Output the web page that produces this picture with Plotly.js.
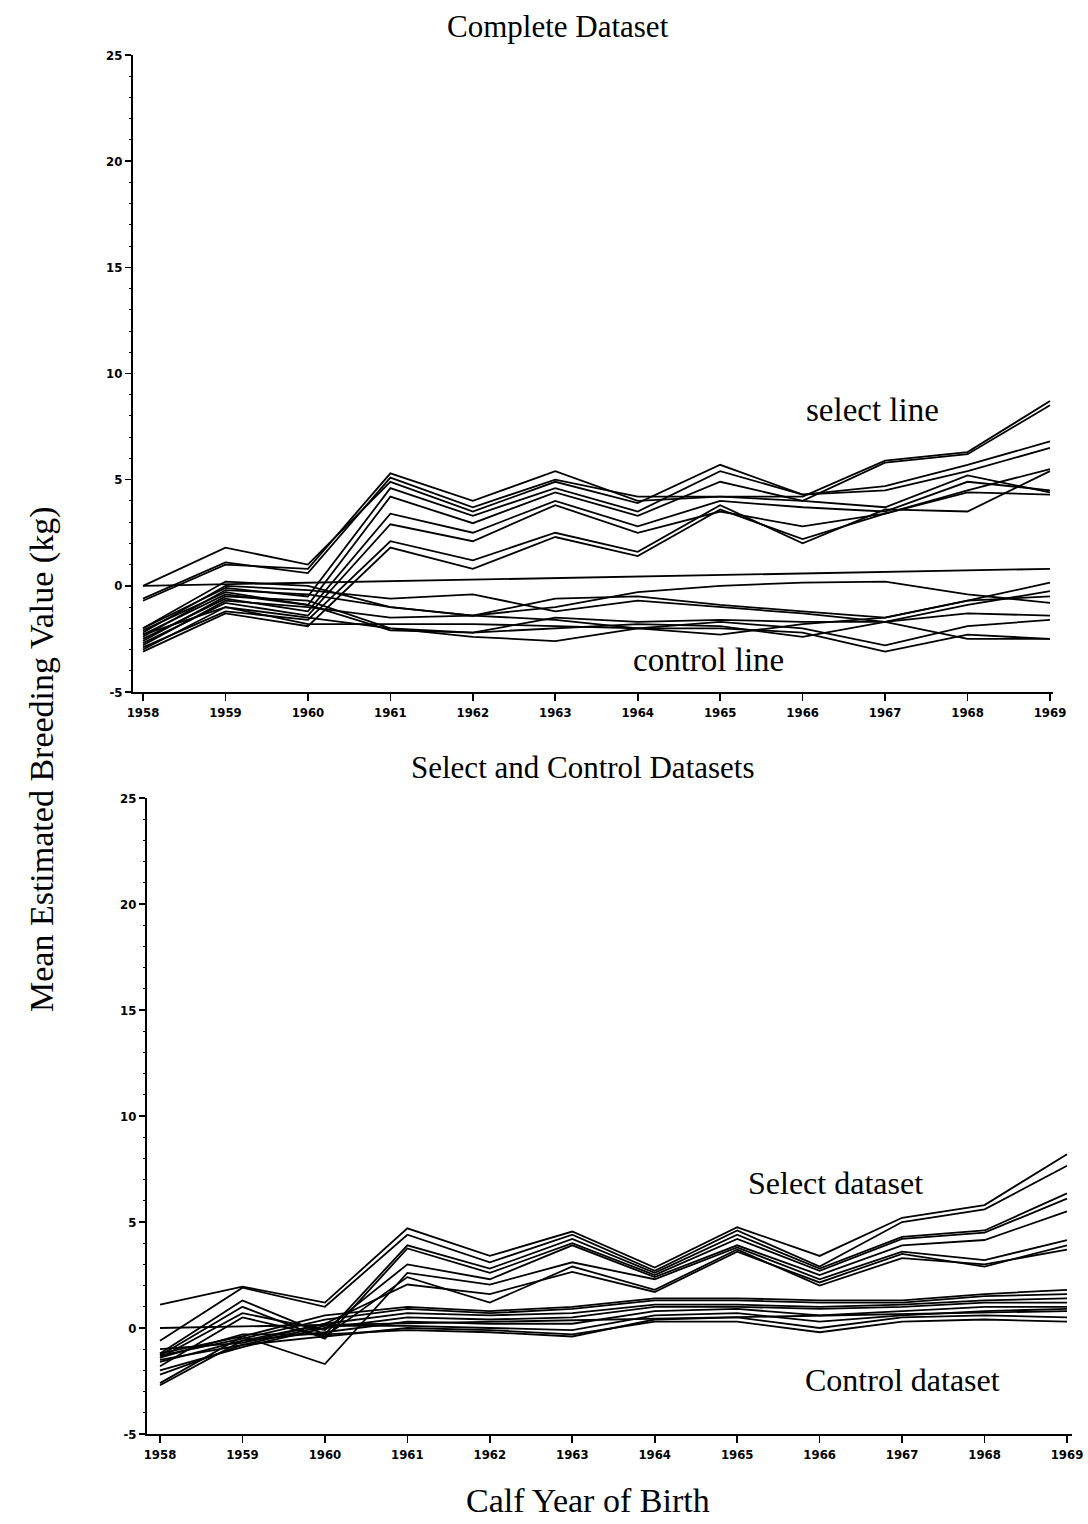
<!DOCTYPE html>
<html>
<head>
<meta charset="utf-8">
<script src="https://cdn.plot.ly/plotly-3.0.1.min.js"></script>
<style>html,body{margin:0;padding:0;background:#fff;}#chart{width:1088px;height:1524px;}</style>
</head>
<body>
<div id="chart"></div>
<script>
const years = [1958,1959,1960,1961,1962,1963,1964,1965,1966,1967,1968,1969];
const yTicks = [-5,0,5,10,15,20,25];

// Top panel: Complete Dataset
const completeSelect = [
  [-0.7, 1.0, 0.8, 5.3, 4.0, 5.4, 4.0, 4.2, 4.2, 5.9, 6.3, 8.7],
  [-0.6, 1.1, 0.6, 5.1, 3.7, 5.0, 4.2, 4.2, 4.0, 5.8, 6.2, 8.5],
  [0.0, 1.8, 1.0, 4.9, 3.5, 4.9, 3.9, 5.7, 4.3, 4.7, 5.7, 6.8],
  [-2.0, -0.1, -0.5, 4.6, 3.3, 4.6, 3.5, 5.4, 4.3, 4.5, 5.4, 6.5],
  [-2.3, -0.4, -0.9, 4.2, 2.95, 4.4, 3.3, 4.9, 4.0, 3.7, 5.2, 4.4],
  [-2.5, -0.6, -1.2, 3.4, 2.5, 4.0, 2.8, 4.0, 3.7, 3.5, 4.9, 4.5],
  [-2.7, -0.8, -1.4, 2.9, 2.1, 3.8, 2.5, 3.5, 2.8, 3.4, 4.5, 5.5],
  [-2.9, -1.2, -1.6, 2.1, 1.2, 2.5, 1.6, 3.8, 2.0, 3.6, 3.5, 5.4],
  [-3.1, -1.3, -1.9, 1.8, 0.8, 2.3, 1.4, 3.6, 2.2, 3.4, 4.4, 4.3]
];
const completeControl = [
  [-2.0, 0.2, 0.0, -1.0, -1.4, -0.6, -0.5, -0.9, -1.2, -1.5, -0.7, 0.15],
  [-2.2, 0.0, -0.2, -0.6, -0.4, -1.2, -0.7, -1.0, -1.3, -1.7, -0.9, -0.25],
  [-2.4, -0.2, -0.4, -1.0, -1.4, -1.0, -0.3, 0.0, 0.15, 0.2, -0.4, -0.8],
  [-2.6, -0.5, -0.7, -2.0, -2.4, -2.6, -2.0, -1.7, -2.0, -2.8, -1.9, -1.6],
  [-2.8, -0.7, -1.0, -1.5, -1.4, -1.6, -2.0, -2.0, -2.2, -3.1, -2.3, -2.5],
  [-3.0, -1.0, -1.5, -2.0, -2.2, -2.0, -1.8, -1.9, -2.4, -1.7, -2.5, -2.5],
  [-2.1, -0.3, -0.9, -2.1, -2.2, -1.5, -1.7, -1.6, -1.7, -1.7, -1.3, -1.4],
  [-2.3, -1.0, -1.8, -1.8, -1.8, -1.9, -2.0, -2.3, -1.8, -1.5, -0.7, -0.5]
];
const completeReference = [0.0, 0.07, 0.15, 0.22, 0.29, 0.36, 0.44, 0.51, 0.58, 0.65, 0.73, 0.8];

// Bottom panel: Select and Control Datasets
const splitSelect = [
  [1.1, 1.95, 1.2, 4.7, 3.4, 4.55, 2.85, 4.75, 3.4, 5.2, 5.8, 8.2],
  [-0.6, 1.9, 1.0, 4.4, 3.1, 4.4, 2.7, 4.6, 2.9, 5.0, 5.6, 7.65],
  [-1.2, 1.3, -0.3, 3.9, 2.8, 4.2, 2.6, 4.4, 2.8, 4.3, 4.6, 6.35],
  [-1.3, 1.0, -0.5, 3.75, 2.6, 4.0, 2.5, 4.2, 2.7, 4.2, 4.5, 6.1],
  [-1.4, 0.7, -0.1, 3.0, 2.3, 3.9, 2.4, 3.9, 2.5, 3.9, 4.15, 5.5],
  [-2.6, -0.4, -1.7, 2.6, 2.05, 3.1, 2.3, 3.8, 2.3, 3.6, 3.2, 4.15],
  [-2.7, -0.6, 0.2, 2.05, 1.6, 2.65, 1.7, 3.6, 2.15, 3.5, 2.9, 3.9],
  [-1.5, -0.8, -0.4, 2.4, 1.2, 2.9, 1.8, 3.7, 2.0, 3.3, 3.0, 3.7]
];
const splitControl = [
  [-1.2, -0.4, 0.6, 1.0, 0.8, 1.0, 1.4, 1.4, 1.3, 1.3, 1.6, 1.8],
  [-1.3, -0.5, 0.4, 0.9, 0.7, 0.9, 1.3, 1.3, 1.2, 1.2, 1.5, 1.6],
  [-1.0, -0.7, 0.2, 0.7, 0.6, 0.7, 1.1, 1.1, 1.0, 1.1, 1.3, 1.4],
  [-2.0, -0.9, 0.0, 0.5, 0.4, 0.5, 1.0, 1.0, 0.9, 1.0, 1.2, 1.2],
  [-1.6, -0.6, -0.2, 0.3, 0.2, 0.2, 0.8, 0.9, 0.6, 0.8, 1.0, 1.0],
  [-2.2, -0.8, 0.1, 0.1, 0.0, -0.1, 0.6, 0.7, 0.3, 0.6, 0.8, 0.9],
  [-1.4, -0.3, -0.3, -0.1, -0.2, -0.4, 0.4, 0.5, 0.0, 0.5, 0.6, 0.5],
  [-1.8, 0.5, -0.4, 0.0, -0.1, -0.3, 0.3, 0.3, -0.2, 0.3, 0.4, 0.3]
];
const splitReference = [0.0, 0.07, 0.15, 0.22, 0.29, 0.36, 0.44, 0.51, 0.58, 0.65, 0.73, 0.8];

const W = 1088, H = 1524;
const px = v => v / W;
const py = v => 1 - v / H;

const lineStyle = {color: '#000', width: 1.8};
const traces = [];
function add(series, xa, ya) {
  series.forEach(s => traces.push({x: years, y: s, xaxis: xa, yaxis: ya, type: 'scatter', mode: 'lines', line: lineStyle, hoverinfo: 'skip', showlegend: false}));
}
add(completeSelect, 'x', 'y');
add(completeControl, 'x', 'y');
add([completeReference], 'x', 'y');
add(splitSelect, 'x2', 'y2');
add(splitControl, 'x2', 'y2');
add([splitReference], 'x2', 'y2');

const tickFont = {family: 'DejaVu Sans Condensed, Liberation Sans Narrow, sans-serif', size: 13, color: '#000', weight: 'bold'};
const serif = 'Liberation Serif, Times New Roman, serif';

function xAxis(domain, range, anchor) {
  return {domain: domain, range: range, anchor: anchor, tickmode: 'array', tickvals: years, ticktext: years.map(String),
    ticks: 'outside', ticklen: 7, tickwidth: 1.6, tickcolor: '#000', showline: true, linecolor: '#000', linewidth: 2,
    showgrid: false, zeroline: false, tickfont: tickFont, fixedrange: true};
}
function yAxis(domain, anchor) {
  return {domain: domain, range: [-5, 25], anchor: anchor, tickmode: 'array', tickvals: yTicks, ticktext: yTicks.map(String),
    ticks: 'outside', ticklen: 6, tickwidth: 1.6, tickcolor: '#000', showline: true, linecolor: '#000', linewidth: 2,
    showgrid: false, zeroline: false, tickfont: tickFont,
    minor: {dtick: 1, tick0: 0, ticks: 'outside', ticklen: 2, tickwidth: 1, tickcolor: '#000', showgrid: false},
    fixedrange: true};
}

function label(text, x, y, size, extra) {
  return Object.assign({text: text, xref: 'paper', yref: 'paper', x: px(x), y: py(y), xanchor: 'center', yanchor: 'middle',
    showarrow: false, font: {family: serif, size: size, color: '#000'}}, extra || {});
}

const layout = {
  width: W, height: H,
  margin: {l: 0, r: 0, t: 0, b: 0},
  paper_bgcolor: '#fff', plot_bgcolor: 'rgba(0,0,0,0)',
  showlegend: false,
  xaxis: xAxis([px(133), px(1053)], [1958 - 10/82.45, 1969 + 3/82.45], 'y'),
  yaxis: yAxis([py(692), py(55)], 'x'),
  xaxis2: xAxis([px(147), px(1072)], [1958 - 13/82.45, 1969 + 5/82.45], 'y2'),
  yaxis2: yAxis([py(1434), py(798)], 'x2'),
  annotations: [
    label('Complete Dataset', 558, 27, 31),
    label('Select and Control Datasets', 583, 767, 31),
    label('select line', 872, 410, 33),
    label('control line', 708, 660, 33),
    label('Select dataset', 835, 1183, 32),
    label('Control dataset', 902, 1380, 32),
    label('Mean Estimated Breeding Value (kg)', 42, 760, 34, {textangle: -90}),
    label('Calf Year of Birth', 588, 1500, 34)
  ]
};

Plotly.newPlot('chart', traces, layout, {staticPlot: true, displayModeBar: false});
</script>
</body>
</html>
